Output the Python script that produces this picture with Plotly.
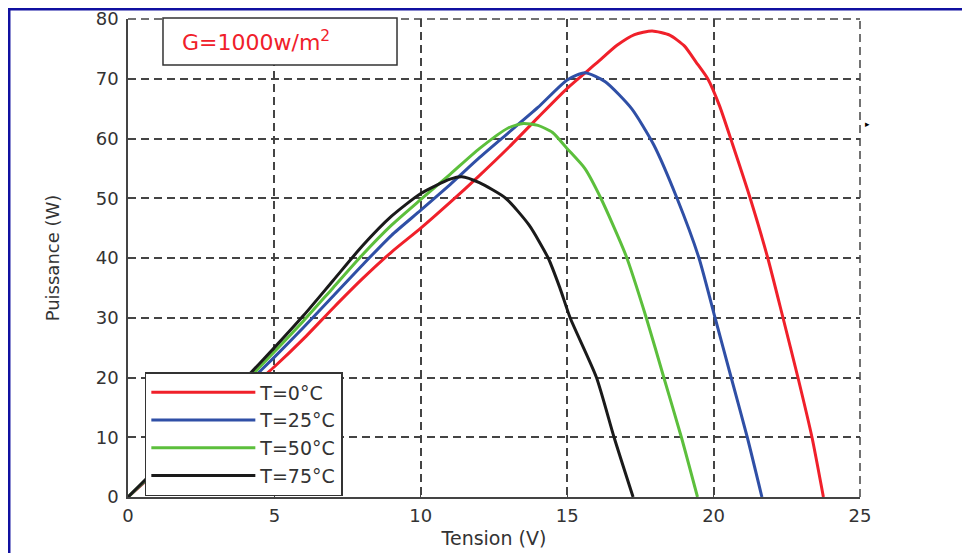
import plotly.graph_objects as go

# Data (Tension V, Puissance W)
v_t0 = [0, 1, 2, 3, 4, 5, 6, 7, 8, 9, 10, 11, 12, 13, 14, 15, 16, 16.7, 17.3, 17.9, 18.5, 19, 19.4, 19.8, 20.2, 20.65, 21.25, 21.85, 22.37, 22.88, 23.36, 23.75]
p_t0 = [0, 4.4, 8.8, 13.2, 17.5, 21.8, 26.5, 31.6, 36.5, 41, 45, 49.3, 53.8, 58.5, 63.5, 68.4, 72.6, 75.6, 77.4, 78, 77.3, 75.5, 72.8, 70, 65.5, 59, 50, 40, 30, 20, 10, 0]

v_t25 = [0, 1, 2, 3, 4, 5, 6, 7, 8, 9, 10, 11, 12, 13, 14, 15, 15.6, 16.3, 17.2, 17.95, 18.75, 19.5, 20.05, 20.6, 21.15, 21.65]
p_t25 = [0, 4.6, 9.2, 13.8, 18.6, 23.4, 28.4, 33.6, 38.8, 43.8, 48, 52.3, 56.8, 61, 65.2, 69.8, 71, 69.5, 65, 59, 50, 40, 30, 20, 10, 0]

v_t50 = [0, 1, 2, 3, 4, 5, 6, 7, 8, 9, 10, 11, 12, 13, 13.5, 14, 14.5, 15, 15.6, 16.15, 17, 17.7, 18.3, 18.9, 19.45]
p_t50 = [0, 4.7, 9.5, 14.3, 19.2, 24.3, 29.5, 35, 40.5, 45.5, 49.8, 54, 58.3, 61.8, 62.5, 62.2, 61, 58.3, 55, 50, 40.5, 30, 20, 10, 0]

v_t75 = [0, 1, 2, 3, 4, 5, 6, 7, 8, 9, 10, 11, 11.4, 12, 12.9, 13.7, 14.35, 14.75, 15.1, 16, 16.6, 17.25]
p_t75 = [0, 4.9, 9.8, 14.8, 19.8, 25.0, 30.4, 36.2, 42, 47, 50.8, 53.2, 53.6, 52.6, 50, 45.5, 40, 35, 30, 20, 10, 0]

names = ["T=0°C", "T=25°C", "T=50°C", "T=75°C"]
colors = ["#f0202a", "#2f4fa6", "#5cbf3c", "#1a1a1a"]
x_ticks = [0, 5, 10, 15, 20, 25]
y_ticks = [0, 10, 20, 30, 40, 50, 60, 70, 80]

fig = go.Figure()
for v, p, n, c in zip([v_t0, v_t25, v_t50, v_t75], [p_t0, p_t25, p_t50, p_t75], names, colors):
    fig.add_trace(go.Scatter(x=v, y=p, mode="lines", name=n,
                             line=dict(color=c, width=3, shape="spline", smoothing=0.6)))

font = "DejaVu Sans, Liberation Sans, sans-serif"
axis_common = dict(showline=True, linecolor="#444", linewidth=1.5, ticks="inside", ticklen=5,
                   tickcolor="#444", showgrid=True, gridcolor="#444", gridwidth=1.5,
                   griddash="8px,5px", zeroline=False, automargin=False,
                   tickfont=dict(family=font, size=18, color="#333"))

fig.update_xaxes(range=[0, 25], tickvals=x_ticks, ticklabelstandoff=2,
                 title=dict(text="Tension (V)", standoff=6,
                            font=dict(family=font, size=19, color="#333")), **axis_common)
fig.update_yaxes(range=[0, 80], tickvals=y_ticks, ticklabelstandoff=4,
                 title=dict(text="Puissance (W)", standoff=31,
                            font=dict(family=font, size=18, color="#333")), **axis_common)

# dashed top and right edges of the plot area
fig.add_shape(type="line", xref="paper", yref="paper", x0=0, x1=1, y0=1, y1=1,
              line=dict(color="#444", width=1.5, dash="8px,5px"))
fig.add_shape(type="line", xref="paper", yref="paper", x0=1, x1=1, y0=0, y1=1,
              line=dict(color="#444", width=1.5, dash="8px,5px"))

# outer blue frame
fig.add_shape(type="rect", xref="paper", yref="paper", x0=-0.1626, x1=1.3, y0=-0.3, y1=1.0209,
              line=dict(color="#1010a0", width=3), layer="below")

# irradiance label box
fig.add_shape(type="rect", xref="paper", yref="paper", x0=0.0478, x1=0.3675, y0=0.9038, y1=1.002,
              line=dict(color="#333", width=1.5), fillcolor="white", layer="above")
fig.add_annotation(xref="paper", yref="paper", x=0.071, y=0.954, xanchor="left", yanchor="middle",
                   text="G=1000w/m<sup>2</sup>", showarrow=False,
                   font=dict(family=font, size=22, color="#f0202a"))

fig.add_annotation(xref="paper", yref="paper", x=1.017, y=0.8, text="▸", showarrow=False,
                   font=dict(size=9, color="black"))

fig.update_layout(
    width=962, height=545,
    margin=dict(l=120, r=110, t=11, b=56),
    paper_bgcolor="white", plot_bgcolor="white",
    showlegend=True,
    legend=dict(x=0.023, y=0.2615, xanchor="left", yanchor="top",
                bgcolor="white", bordercolor="#333", borderwidth=1.5,
                font=dict(family=font, size=19, color="#333"),
                itemwidth=104, tracegroupgap=0),
)

fig.write_html("out.html")
